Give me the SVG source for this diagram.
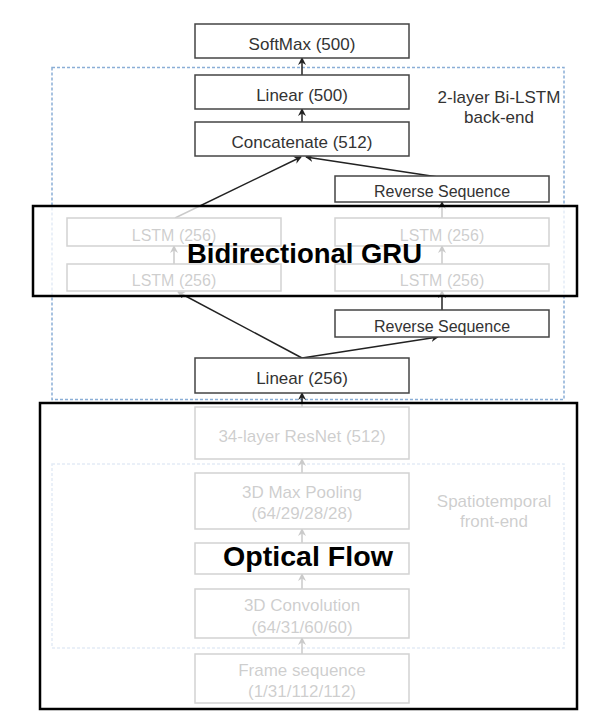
<svg xmlns="http://www.w3.org/2000/svg" width="615" height="716" viewBox="0 0 615 716">
<defs>
<marker id="ah" markerUnits="userSpaceOnUse" markerWidth="9" markerHeight="9" refX="7" refY="4" orient="auto">
<path d="M0,0 L8,4 L0,8 L2.5,4 z" fill="#222"/>
</marker>
<style>
.box{fill:#fff;stroke:#444;stroke-width:1.5}
.lbl{font-family:"Liberation Sans",Arial,sans-serif;font-size:17px;fill:#333;text-anchor:middle}
.sm{font-size:16px}
.grp{fill:none;stroke:#8aaed6;stroke-width:1.5;stroke-dasharray:3 2}
.con{stroke:#222;stroke-width:1.5;fill:none;marker-end:url(#ah)}
.veil{fill:#fff;fill-opacity:0.76;stroke:#000;stroke-width:2.5}
.big{font-family:"Liberation Sans",Arial,sans-serif;font-weight:bold;font-size:28px;fill:#000;text-anchor:middle}
</style>
</defs>
<rect width="615" height="716" fill="#fff"/>

<g id="backend-group">
<rect class="grp" x="52" y="67.5" width="512" height="332"/>
<text class="lbl" x="499" y="103">2-layer Bi-LSTM</text>
<text class="lbl" x="499" y="123">back-end</text>
</g>
<g id="frontend-group">
<rect class="grp" x="52" y="464" width="512" height="184"/>
<text class="lbl" x="494" y="507">Spatiotemporal</text>
<text class="lbl" x="494" y="527">front-end</text>
</g>

<g id="connectors">
<line class="con" x1="302" y1="75" x2="302" y2="58"/>
<line class="con" x1="302" y1="122" x2="302" y2="109"/>
<line class="con" x1="175" y1="218" x2="301" y2="157"/>
<line class="con" x1="438" y1="177" x2="306" y2="157"/>
<line class="con" x1="442" y1="218" x2="442" y2="202"/>
<line class="con" x1="442" y1="264" x2="442" y2="246"/>
<line class="con" x1="174" y1="264" x2="174" y2="246"/>
<line class="con" x1="442" y1="310" x2="442" y2="291"/>
<line class="con" x1="302" y1="358" x2="178" y2="292"/>
<line class="con" x1="302" y1="358" x2="438" y2="337"/>
<line class="con" x1="302" y1="407" x2="302" y2="393"/>
<line class="con" x1="302" y1="473" x2="302" y2="459"/>
<line class="con" x1="302" y1="543" x2="302" y2="529"/>
<line class="con" x1="302" y1="589" x2="302" y2="574"/>
<line class="con" x1="302" y1="654" x2="302" y2="638"/>
</g>

<g id="softmax"><rect class="box" x="195" y="24" width="214" height="34"/><text class="lbl" x="302" y="49.5">SoftMax (500)</text></g>
<g id="linear500"><rect class="box" x="195" y="75" width="214" height="34"/><text class="lbl" x="302" y="100.5">Linear (500)</text></g>
<g id="concat"><rect class="box" x="195" y="122" width="214" height="34"/><text class="lbl" x="302" y="147.5">Concatenate (512)</text></g>
<g id="reverse-top"><rect class="box" x="335" y="176" width="214" height="26"/><text class="lbl sm" x="442" y="197">Reverse Sequence</text></g>
<g id="lstm-left-top"><rect class="box" x="67" y="218" width="214" height="28"/><text class="lbl sm" x="174" y="241">LSTM (256)</text></g>
<g id="lstm-left-bottom"><rect class="box" x="67" y="264" width="214" height="27"/><text class="lbl sm" x="174" y="286">LSTM (256)</text></g>
<g id="lstm-right-top"><rect class="box" x="335" y="218" width="214" height="28"/><text class="lbl sm" x="442" y="241">LSTM (256)</text></g>
<g id="lstm-right-bottom"><rect class="box" x="335" y="264" width="214" height="27"/><text class="lbl sm" x="442" y="286">LSTM (256)</text></g>
<g id="reverse-bottom"><rect class="box" x="335" y="310" width="214" height="27"/><text class="lbl sm" x="442" y="331.5">Reverse Sequence</text></g>
<g id="linear256"><rect class="box" x="195" y="358" width="214" height="35"/><text class="lbl" x="302" y="384">Linear (256)</text></g>
<g id="resnet"><rect class="box" x="195" y="407" width="214" height="52"/><text class="lbl" x="302" y="442">34-layer ResNet (512)</text></g>
<g id="maxpool"><rect class="box" x="195" y="473" width="214" height="56"/><text class="lbl" x="302" y="498">3D Max Pooling</text><text class="lbl" x="302" y="519">(64/29/28/28)</text></g>
<g id="hidden-layer"><rect class="box" x="195" y="543" width="214" height="31"/></g>
<g id="conv3d"><rect class="box" x="195" y="589" width="214" height="49"/><text class="lbl" x="302" y="611">3D Convolution</text><text class="lbl" x="302" y="633">(64/31/60/60)</text></g>
<g id="frames"><rect class="box" x="195" y="654" width="214" height="49"/><text class="lbl" x="302" y="676">Frame sequence</text><text class="lbl" x="302" y="697">(1/31/112/112)</text></g>

<g id="gru-overlay">
<rect class="veil" x="33" y="206" width="544" height="90"/>
<text class="big" x="304.5" y="263" textLength="235" lengthAdjust="spacingAndGlyphs">Bidirectional GRU</text>
</g>
<g id="optical-overlay">
<rect class="veil" x="40" y="403" width="537" height="306"/>
<rect x="196" y="544" width="212" height="29" fill="#fff"/>
<text class="big" x="308" y="566" textLength="170" lengthAdjust="spacingAndGlyphs">Optical Flow</text>
</g>
</svg>
